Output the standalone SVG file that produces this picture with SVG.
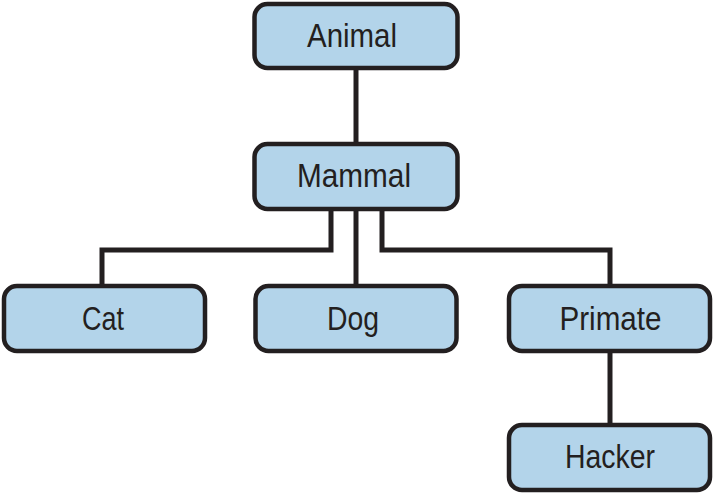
<svg xmlns="http://www.w3.org/2000/svg" width="715" height="493" viewBox="0 0 715 493">
<style>
.box{fill:#b3d4ea;stroke:#231f20;stroke-width:4.5}
.lbl{font-family:"Liberation Sans",Arial,sans-serif;font-size:34px;fill:#231f20;text-anchor:middle}
.conn{fill:none;stroke:#231f20;stroke-width:5}
</style>
<rect width="715" height="493" fill="#ffffff"/>
<g id="connectors">
<path class="conn" d="M356 68V146"/>
<path class="conn" d="M331 208V250H102V288"/>
<path class="conn" d="M356 208V288"/>
<path class="conn" d="M382 208V250H610V288"/>
<path class="conn" d="M610 350V426"/>
</g>
<g id="animal"><rect class="box" x="254.5" y="4" width="203" height="64" rx="13"/><text class="lbl" x="352" y="47" textLength="90" lengthAdjust="spacingAndGlyphs">Animal</text></g>
<g id="mammal"><rect class="box" x="254.5" y="144" width="203" height="65" rx="13"/><text class="lbl" x="354" y="187" textLength="114" lengthAdjust="spacingAndGlyphs">Mammal</text></g>
<g id="cat"><rect class="box" x="4" y="286" width="201" height="65" rx="13"/><text class="lbl" x="103" y="330" textLength="42" lengthAdjust="spacingAndGlyphs">Cat</text></g>
<g id="dog"><rect class="box" x="255.5" y="286" width="201" height="65" rx="13"/><text class="lbl" x="353" y="330" textLength="52" lengthAdjust="spacingAndGlyphs">Dog</text></g>
<g id="primate"><rect class="box" x="509" y="286" width="201" height="65" rx="13"/><text class="lbl" x="610.5" y="330" textLength="102" lengthAdjust="spacingAndGlyphs">Primate</text></g>
<g id="hacker"><rect class="box" x="509" y="425" width="201" height="65" rx="13"/><text class="lbl" x="610" y="468" textLength="90" lengthAdjust="spacingAndGlyphs">Hacker</text></g>
</svg>
